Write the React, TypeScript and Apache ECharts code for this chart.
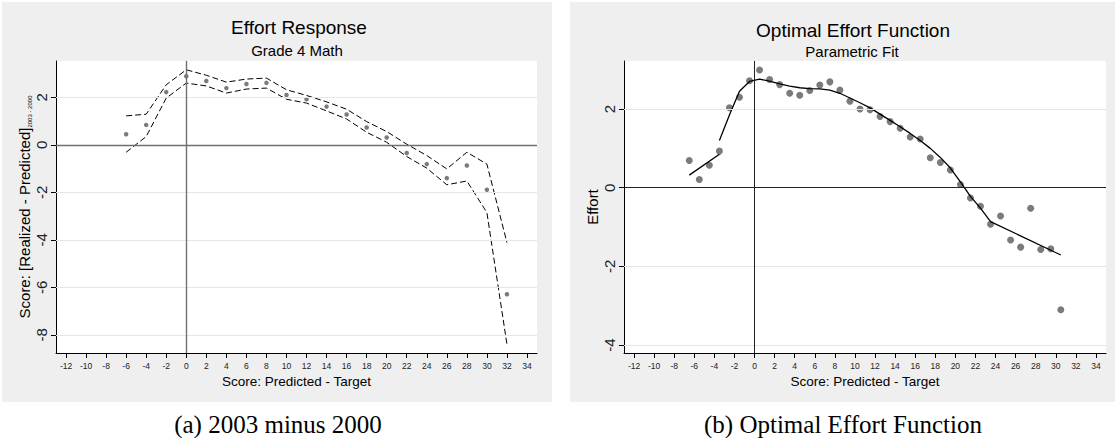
import React, { useEffect, useRef } from "react";
import * as echarts from "echarts";

// ---------- tick labels ----------
const xTicks = [-12, -10, -8, -6, -4, -2, 0, 2, 4, 6, 8, 10, 12, 14, 16, 18, 20, 22, 24, 26, 28, 30, 32, 34];
const leftYTicks = [-8, -6, -4, -2, 0, 2];
const rightYTicks = [-4, -2, 0, 2];

// ---------- panel (a): Effort Response ----------
const leftX = [-6, -4, -2, 0, 2, 4, 6, 8, 10, 12, 14, 16, 18, 20, 22, 24, 26, 28, 30, 32];
const leftPoint = [0.45, 0.84, 2.22, 2.89, 2.69, 2.39, 2.56, 2.61, 2.1, 1.92, 1.61, 1.28, 0.73, 0.31, -0.34, -0.81, -1.4, -0.87, -1.89, -6.29];
const leftUpper = [1.22, 1.29, 2.53, 3.16, 2.93, 2.64, 2.77, 2.81, 2.32, 2.08, 1.81, 1.5, 0.98, 0.56, 0.03, -0.45, -1.01, -0.31, -0.81, -4.11];
const leftLower = [-0.31, 0.35, 1.97, 2.6, 2.48, 2.18, 2.35, 2.39, 1.92, 1.76, 1.43, 1.09, 0.53, 0.11, -0.49, -0.98, -1.68, -1.52, -2.85, -8.39];

// ---------- panel (b): Optimal Effort Function ----------
const rightX = [-6.5, -5.5, -4.5, -3.5, -2.5, -1.5, -0.5, 0.5, 1.5, 2.5, 3.5, 4.5, 5.5, 6.5, 7.5, 8.5, 9.5, 10.5, 11.5, 12.5, 13.5, 14.5, 15.5, 16.5, 17.5, 18.5, 19.5, 20.5, 21.5, 22.5, 23.5, 24.5, 25.5, 26.5, 27.5, 28.5, 29.5, 30.5];
const rightPoint = [0.69, 0.21, 0.57, 0.93, 2.03, 2.3, 2.72, 2.99, 2.75, 2.62, 2.4, 2.35, 2.47, 2.61, 2.69, 2.48, 2.2, 2.0, 1.98, 1.81, 1.68, 1.51, 1.29, 1.24, 0.76, 0.64, 0.45, 0.08, -0.26, -0.47, -0.93, -0.72, -1.33, -1.51, -0.52, -1.57, -1.55, -3.1];
const fitLowX = [-6.5, -3.5];
const fitLowY = [0.32, 0.85];
const fitHighX = [-3.5, -2.5, -1.5, -0.5, 0.5, 1.5, 2.5, 3.5, 4.5, 5.5, 6.5, 7.5, 8.5, 9.5, 10.5, 11.5, 12.5, 13.5, 14.5, 15.5, 16.5, 17.5, 18.5, 19.5, 20.5, 21.5, 22.5, 23.5, 30.5];
const fitHighY = [1.2, 1.85, 2.45, 2.7, 2.76, 2.71, 2.64, 2.58, 2.54, 2.52, 2.51, 2.48, 2.4, 2.28, 2.16, 2.03, 1.87, 1.71, 1.55, 1.38, 1.2, 1.0, 0.77, 0.5, 0.15, -0.22, -0.52, -0.86, -1.71];

const zip = (xs: number[], ys: number[]) => xs.map((x, i) => [x, ys[i]]);

const FONT = "Liberation Sans";

function mkX(gi: number) {
  return {
    type: "value",
    gridIndex: gi,
    min: -13,
    max: 35,
    axisLine: { show: true, onZero: false, lineStyle: { color: "#000", width: 1 } },
    axisTick: { show: true, customValues: xTicks, length: 5, lineStyle: { color: "#000", width: 1 } },
    axisLabel: { customValues: xTicks, fontSize: 8.5, color: "#222", margin: 8, fontFamily: FONT },
    splitLine: { show: false },
    name: "Score: Predicted - Target",
    nameLocation: "middle",
    nameGap: 19,
    nameTextStyle: { fontSize: 13.5, color: "#000", fontFamily: FONT, verticalAlign: "top" },
  };
}

function mkY(gi: number, min: number, max: number, ticks: number[], name: string, gap: number, rich?: any) {
  return {
    type: "value",
    gridIndex: gi,
    min,
    max,
    axisLine: { show: true, onZero: false, lineStyle: { color: "#000", width: 1 } },
    axisTick: { show: true, customValues: ticks, length: 5, lineStyle: { color: "#000", width: 1 } },
    axisLabel: { customValues: ticks, rotate: 90, fontSize: 15, color: "#222", margin: 7, fontFamily: FONT },
    splitLine: { show: false },
    name,
    nameLocation: "middle",
    nameGap: gap,
    nameTextStyle: { fontSize: 15, color: "#000", fontFamily: FONT, lineHeight: 18, rich },
  };
}

function refLines(ticks: number[], gridColor: string, refColor: string, refWidth: number) {
  const data: any[] = ticks
    .filter((v) => v !== 0)
    .map((v) => ({ yAxis: v, lineStyle: { color: gridColor, width: 1, type: "solid" } }));
  data.push({ yAxis: 0, lineStyle: { color: refColor, width: refWidth, type: "solid" } });
  data.push({ xAxis: 0, lineStyle: { color: refColor, width: refWidth, type: "solid" } });
  return data;
}

export default function App() {
  const ref = useRef<HTMLDivElement>(null);

  useEffect(() => {
    if (!ref.current) return;
    const chart = echarts.init(ref.current, null, { renderer: "svg" });

    const textEl = (x: number, y: number, text: string, font: string) => ({
      type: "text",
      x,
      y,
      silent: true,
      style: {
        text,
        font,
        fill: "#000",
        align: "center",
        verticalAlign: "middle",
        textAlign: "center",
        textVerticalAlign: "middle",
      },
    });

    const option: any = {
      animation: false,
      textStyle: { fontFamily: FONT },
      tooltip: { show: false },
      grid: [
        { left: 56, top: 61, width: 481, height: 292, show: true, backgroundColor: "#fff", borderWidth: 0 },
        { left: 624, top: 61, width: 482, height: 292, show: true, backgroundColor: "#fff", borderWidth: 0 },
      ],
      xAxis: [mkX(0), mkX(1)],
      yAxis: [
        mkY(0, -8.76, 3.53, leftYTicks, "Score: [Realized - Predicted]{sub|2003 - 2000}", 20, {
          sub: { fontSize: 6, verticalAlign: "bottom", fontFamily: FONT, color: "#000" },
        }),
        mkY(1, -4.2, 3.22, rightYTicks, "Effort", 22),
      ],
      series: [
        {
          type: "scatter",
          xAxisIndex: 0,
          yAxisIndex: 0,
          data: [],
          z: 1,
          silent: true,
          markLine: {
            silent: true,
            symbol: ["none", "none"],
            label: { show: false },
            animation: false,
            data: refLines(leftYTicks, "#e6e6e6", "#707070", 1.4),
          },
        },
        {
          type: "line",
          xAxisIndex: 0,
          yAxisIndex: 0,
          data: zip(leftX, leftUpper),
          symbol: "none",
          silent: true,
          lineStyle: { color: "#000", width: 1, type: [6, 3] },
          z: 3,
        },
        {
          type: "line",
          xAxisIndex: 0,
          yAxisIndex: 0,
          data: zip(leftX, leftLower),
          symbol: "none",
          silent: true,
          lineStyle: { color: "#000", width: 1, type: [6, 3] },
          z: 3,
        },
        {
          type: "scatter",
          xAxisIndex: 0,
          yAxisIndex: 0,
          data: zip(leftX, leftPoint),
          symbolSize: 4.5,
          silent: true,
          itemStyle: { color: "#5a5a5a" },
          z: 4,
        },
        {
          type: "scatter",
          xAxisIndex: 1,
          yAxisIndex: 1,
          data: [],
          z: 1,
          silent: true,
          markLine: {
            silent: true,
            symbol: ["none", "none"],
            label: { show: false },
            animation: false,
            data: refLines(rightYTicks, "#e6e6e6", "#222", 1),
          },
        },
        {
          type: "scatter",
          xAxisIndex: 1,
          yAxisIndex: 1,
          data: zip(rightX, rightPoint),
          symbolSize: 7,
          silent: true,
          itemStyle: { color: "#5a5a5a" },
          z: 3,
        },
        {
          type: "line",
          xAxisIndex: 1,
          yAxisIndex: 1,
          data: zip(fitLowX, fitLowY),
          symbol: "none",
          silent: true,
          lineStyle: { color: "#000", width: 1.3 },
          z: 4,
        },
        {
          type: "line",
          xAxisIndex: 1,
          yAxisIndex: 1,
          data: zip(fitHighX, fitHighY),
          symbol: "none",
          silent: true,
          lineStyle: { color: "#000", width: 1.3 },
          z: 4,
        },
      ],
      graphic: [
        { type: "rect", z: -10, silent: true, shape: { x: 2, y: 2, width: 550, height: 400 }, style: { fill: "#efefef" } },
        { type: "rect", z: -10, silent: true, shape: { x: 570, y: 2, width: 545, height: 400 }, style: { fill: "#efefef" } },
        textEl(299, 27, "Effort Response", `19px "${FONT}"`),
        textEl(297, 50, "Grade 4 Math", `15px "${FONT}"`),
        textEl(853, 30, "Optimal Effort Function", `19px "${FONT}"`),
        textEl(852, 51, "Parametric Fit", `15px "${FONT}"`),
        textEl(278, 424, "(a) 2003 minus 2000", `25px "Liberation Serif"`),
        textEl(843, 424, "(b) Optimal Effort Function", `25px "Liberation Serif"`),
      ],
    };

    chart.setOption(option);
    return () => chart.dispose();
  }, []);

  return (
    <div
      ref={ref}
      style={{ position: "absolute", left: 0, top: 0, width: 1117, height: 438, background: "#fff" }}
    />
  );
}
